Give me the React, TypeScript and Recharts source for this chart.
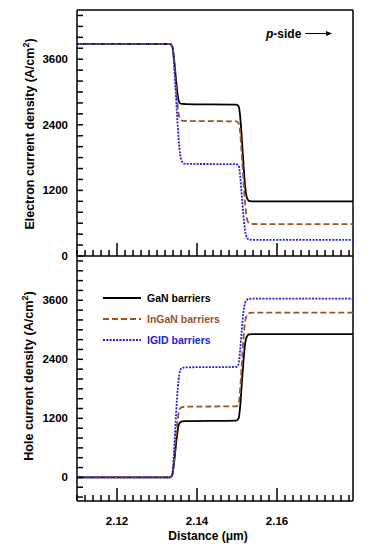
import React from 'react';
import { LineChart, Line, XAxis, YAxis, ReferenceLine, Legend } from 'recharts';

// distance along the device (µm)
const DISTANCE = [
  2.110, 2.1332, 2.1338, 2.1342, 2.1346, 2.1350, 2.1354, 2.1358, 2.1363, 2.1370,
  2.1498, 2.1504, 2.1508, 2.1512, 2.1516, 2.1520, 2.1525, 2.1530, 2.1540, 2.179,
];

// electron current density (A/cm2)
const ELECTRON_GAN = [
  3880, 3878, 3840, 3650, 3350, 3050, 2840, 2790, 2782, 2780,
  2770, 2740, 2550, 2150, 1700, 1300, 1060, 1010, 1000, 1000,
];
const ELECTRON_INGAN = [
  3880, 3878, 3840, 3620, 3250, 2880, 2600, 2500, 2475, 2470,
  2462, 2430, 2250, 1850, 1400, 980, 680, 600, 585, 582,
];
const ELECTRON_IGID = [
  3880, 3878, 3840, 3580, 3100, 2600, 2150, 1850, 1720, 1685,
  1680, 1650, 1450, 1100, 750, 480, 330, 300, 295, 295,
];

// hole current density (A/cm2)
const HOLE_GAN = [
  0, 2, 40, 250, 550, 850, 1060, 1120, 1140, 1145,
  1155, 1200, 1450, 1900, 2350, 2700, 2870, 2905, 2914, 2914,
];
const HOLE_INGAN = [
  0, 2, 45, 300, 700, 1050, 1300, 1400, 1430, 1436,
  1445, 1500, 1800, 2300, 2800, 3150, 3300, 3340, 3348, 3348,
];
const HOLE_IGID = [
  0, 2, 60, 450, 1050, 1600, 1980, 2170, 2225, 2237,
  2245, 2300, 2600, 3000, 3350, 3540, 3610, 3628, 3633, 3633,
];

const SERIES_NAMES = ['GaN barriers', 'InGaN barriers', 'IGID barriers'];
const X_LABELS = [2.12, 2.14, 2.16];
const Y_LABELS_TOP = [0, 1200, 2400, 3600];
const Y_LABELS_BOTTOM = [0, 1200, 2400, 3600];

const X_DOMAIN: [number, number] = [2.11, 2.179];
const Y_DOMAIN_TOP: [number, number] = [0, 4500];
const Y_DOMAIN_BOTTOM: [number, number] = [-480, 4500];

const range = (a: number, b: number, s: number) => {
  const out: number[] = [];
  for (let v = a; v <= b + s / 1000; v += s) out.push(Math.round(v * 10000) / 10000);
  return out;
};
const X_TICKS = range(2.11, 2.178, 0.002);
const Y_TICKS_TOP = range(0, 4400, 200);
const Y_TICKS_BOTTOM = range(-400, 4400, 200);

const FONT = '"Liberation Sans", Arial, sans-serif';
const STYLES = [
  { key: 'gan', color: '#000000', dash: undefined as string | undefined },
  { key: 'ingan', color: '#a0521f', dash: '6 3' },
  { key: 'igid', color: '#2020dc', dash: '2 1.3' },
];

const electronRows = DISTANCE.map((d, i) => ({
  d, gan: ELECTRON_GAN[i], ingan: ELECTRON_INGAN[i], igid: ELECTRON_IGID[i],
}));
const holeRows = DISTANCE.map((d, i) => ({
  d, gan: HOLE_GAN[i], ingan: HOLE_INGAN[i], igid: HOLE_IGID[i],
}));

const near = (list: number[], v: number) => list.some(m => Math.abs(m - v) < 1e-6);

// inward ticks, labels only on the listed values
const makeYTick = (labels: number[]) => (props: any) => {
  const { x, y, payload } = props;
  const v = payload.value;
  const px = Number(x);
  const py = Number(y);
  return (
    <g>
      <path d={`M${px},${py}H${px + 6}`} stroke="#000" strokeWidth={1.5} fill="none" />
      {near(labels, v) && (
        <text x={px - 9} y={py} dy={4} textAnchor="end" fontSize={11.5} fontWeight="bold" fontFamily={FONT} fill="#000">
          {v}
        </text>
      )}
    </g>
  );
};

const makeXTick = (showLabels: boolean) => (props: any) => {
  const { x, y, payload } = props;
  const v = payload.value;
  const px = Number(x);
  const py = Number(y);
  const major = near(X_LABELS, v);
  return (
    <g>
      <path d={`M${px},${py}V${py - (major ? 13 : 6)}`} stroke="#000" strokeWidth={1.5} fill="none" />
      {showLabels && major && (
        <text x={px} y={py + 24} textAnchor="middle" fontSize={11.5} fontWeight="bold" fontFamily={FONT} fill="#000">
          {v.toFixed(2)}
        </text>
      )}
    </g>
  );
};

const renderLegend = ({ payload }: any) => {
  const items = [...(payload || [])].sort(
    (a: any, b: any) => SERIES_NAMES.indexOf(a.value) - SERIES_NAMES.indexOf(b.value),
  );
  return (
    <div>
      {items.map((entry: any) => (
        <div key={entry.value} style={{ display: 'flex', alignItems: 'center', height: 21 }}>
          <svg width={38} height={6}>
            <line x1={0} x2={38} y1={3} y2={3} stroke={entry.color} strokeWidth={2}
              strokeDasharray={entry.payload?.strokeDasharray} />
          </svg>
          <span style={{ marginLeft: 6, color: entry.color, font: `bold 10.5px ${FONT}` }}>{entry.value}</span>
        </div>
      ))}
    </div>
  );
};

const seriesLines = () =>
  STYLES.map((s, i) => (
    <Line
      key={s.key}
      type="monotone"
      dataKey={s.key}
      name={SERIES_NAMES[i]}
      stroke={s.color}
      strokeWidth={1.8}
      strokeDasharray={s.dash}
      dot={false}
      isAnimationActive={false}
    />
  ));

export default function App() {
  return (
    <div style={{ position: 'absolute', left: 0, top: 0, width: 367, height: 550, background: '#fff' }}>
      <div style={{ position: 'absolute', left: 0, top: 0 }}>
        <LineChart width={367} height={262} data={electronRows} margin={{ top: 10, right: 14, bottom: 5, left: 0 }}>
          <XAxis dataKey="d" type="number" domain={X_DOMAIN} ticks={X_TICKS} interval={0} height={1}
            tickSize={0} tickMargin={0} tickLine={false} tick={makeXTick(false)}
            axisLine={{ stroke: '#000', strokeWidth: 1.5 }} allowDataOverflow />
          <YAxis type="number" domain={Y_DOMAIN_TOP} ticks={Y_TICKS_TOP} interval={0} width={77}
            tickSize={0} tickMargin={0} tickLine={false} tick={makeYTick(Y_LABELS_TOP)}
            axisLine={{ stroke: '#000', strokeWidth: 1.5 }} allowDataOverflow />
          <ReferenceLine y={Y_DOMAIN_TOP[1]} stroke="#000" strokeWidth={1.5} />
          <ReferenceLine x={X_DOMAIN[1]} stroke="#000" strokeWidth={1.5} />
          {seriesLines()}
        </LineChart>
      </div>
      <div style={{ position: 'absolute', left: 0, top: 256 }}>
        <LineChart width={367} height={294} data={holeRows} margin={{ top: 0, right: 14, bottom: 0, left: 0 }}>
          <XAxis dataKey="d" type="number" domain={X_DOMAIN} ticks={X_TICKS} interval={0} height={49}
            tickSize={0} tickMargin={0} tickLine={false} tick={makeXTick(true)}
            axisLine={{ stroke: '#000', strokeWidth: 1.5 }} allowDataOverflow />
          <YAxis type="number" domain={Y_DOMAIN_BOTTOM} ticks={Y_TICKS_BOTTOM} interval={0} width={77}
            tickSize={0} tickMargin={0} tickLine={false} tick={makeYTick(Y_LABELS_BOTTOM)}
            axisLine={{ stroke: '#000', strokeWidth: 1.5 }} allowDataOverflow />
          <ReferenceLine x={X_DOMAIN[1]} stroke="#000" strokeWidth={1.5} />
          <Legend content={renderLegend} layout="horizontal" verticalAlign="middle" align="center"
            wrapperStyle={{ left: 103, top: 31, width: 'auto' }} />
          {seriesLines()}
        </LineChart>
      </div>
      <svg width={367} height={550} style={{ position: 'absolute', left: 0, top: 0, pointerEvents: 'none' }}
        fontFamily={FONT} fontWeight="bold">
        <text transform="translate(34,134) rotate(-90)" textAnchor="middle" fontSize={12.5} fill="#000">
          Electron current density (A/cm<tspan dy={-5} fontSize={9}>2</tspan><tspan dy={5}>)</tspan>
        </text>
        <text transform="translate(33,376) rotate(-90)" textAnchor="middle" fontSize={12.6} fill="#000">
          Hole current density (A/cm<tspan dy={-5} fontSize={9}>2</tspan><tspan dy={5}>)</tspan>
        </text>
        <text x={208} y={540} textAnchor="middle" fontSize={12} fill="#000">Distance (μm)</text>
        <text x={266} y={38} fontSize={12} fill="#000">
          <tspan fontStyle="italic">p</tspan>-side
        </text>
        <line x1={305} x2={330} y1={33.5} y2={33.5} stroke="#000" strokeWidth={1} />
        <path d="M 326 31 L 332 33.5 L 326 36 Z" fill="#000" />
      </svg>
    </div>
  );
}
